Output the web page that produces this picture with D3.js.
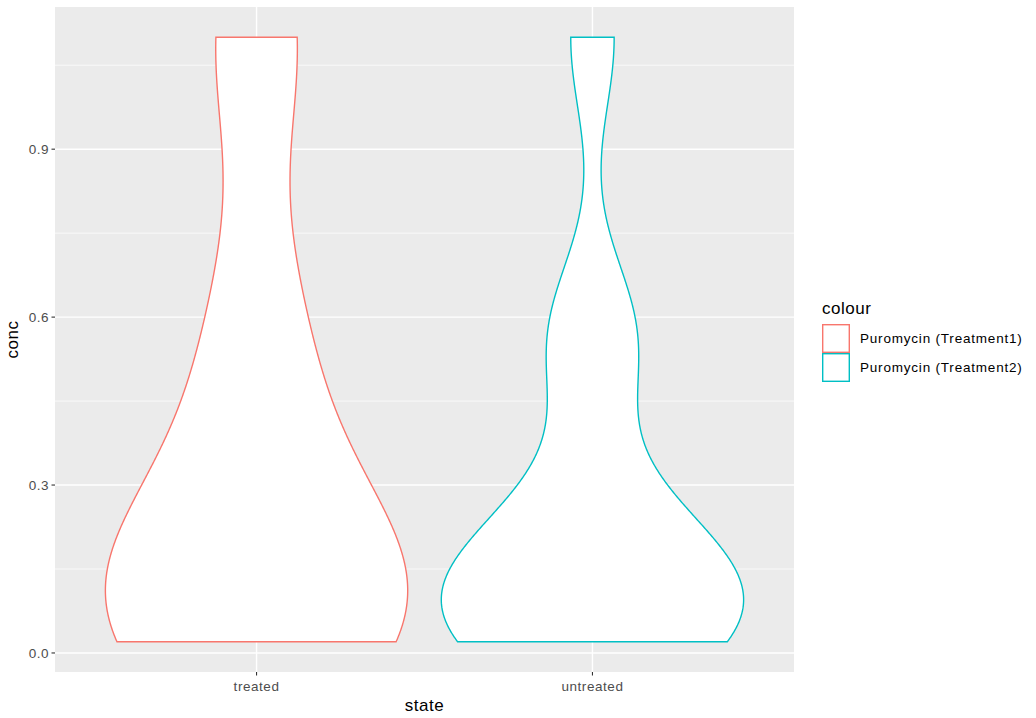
<!DOCTYPE html>
<html><head><meta charset="utf-8">
<script src="https://cdn.jsdelivr.net/npm/d3@7"></script>
<style>body{margin:0;background:#fff}svg{display:block}text{font-family:"Liberation Sans",Arial,sans-serif}</style>
</head><body>
<svg id="c" width="1036" height="718"></svg>
<script>
// Data: Puromycin concentrations (observations per state)
const categories = ["treated", "untreated"];
const treatedConc = [0.02,0.02,0.06,0.06,0.11,0.11,0.22,0.22,0.56,0.56,1.10,1.10];
const untreatedConc = [0.02,0.02,0.06,0.06,0.11,0.11,0.22,0.22,0.56,0.56,1.10];
const seriesNames = ["Puromycin (Treatment1)", "Puromycin (Treatment2)"];
const seriesColors = ["#F8766D", "#00BFC4"];
const yTicks = [0.0, 0.3, 0.6, 0.9];
const yMinor = [0.15, 0.45, 0.75, 1.05];

const svg = d3.select("#c");
const P = {l:55, r:794, t:7, b:672};

const x = d3.scaleLinear().domain([0.4, 2.6]).range([P.l, P.r]);
const y = d3.scaleLinear().domain([-0.034, 1.154]).range([P.b, P.t]);

svg.append("rect").attr("x",P.l).attr("y",P.t).attr("width",P.r-P.l).attr("height",P.b-P.t).attr("fill","#EBEBEB");
// minor grid
svg.selectAll(".ym").data(yMinor).enter().append("line")
  .attr("x1",P.l).attr("x2",P.r).attr("y1",d=>y(d)).attr("y2",d=>y(d))
  .attr("stroke","#fff").attr("stroke-width",0.7);
svg.selectAll(".yg").data(yTicks).enter().append("line")
  .attr("x1",P.l).attr("x2",P.r).attr("y1",d=>y(d)).attr("y2",d=>y(d))
  .attr("stroke","#fff").attr("stroke-width",1.4);
svg.selectAll(".xg").data(categories).enter().append("line")
  .attr("x1",(d,i)=>x(i+1)).attr("x2",(d,i)=>x(i+1)).attr("y1",P.t).attr("y2",P.b)
  .attr("stroke","#fff").attr("stroke-width",1.4);

// KDE (gaussian, bw.nrd0), trimmed to data range, as ggplot's stat_ydensity
function quantile7(s,p){const h=(s.length-1)*p;const lo=Math.floor(h);return s[lo]+(h-lo)*((s[lo+1]??s[lo])-s[lo]);}
function nrd0(v){const s=v.slice().sort((a,b)=>a-b);const sd=d3.deviation(v);const iqr=quantile7(s,0.75)-quantile7(s,0.25);const lo=Math.min(sd,iqr/1.34);return 0.9*lo*Math.pow(v.length,-0.2);}
function kde(v){
  const h=nrd0(v), n=512, mn=d3.min(v), mx=d3.max(v);
  const pts=d3.range(n).map(i=>mn+(mx-mn)*i/(n-1));
  return pts.map(t=>({y:t,d:d3.sum(v,o=>Math.exp(-0.5*((t-o)/h)**2))/(v.length*h*Math.sqrt(2*Math.PI))}));
}
const groups=[treatedConc, untreatedConc];
groups.forEach((v,i)=>{
  const dens=kde(v); const m=d3.max(dens,d=>d.d);
  const cx=i+1;
  const pts=dens.map(d=>[x(cx+0.45*d.d/m),y(d.y)]).concat(dens.slice().reverse().map(d=>[x(cx-0.45*d.d/m),y(d.y)]));
  svg.append("path").attr("d",d3.line()(pts)+"Z").attr("fill","#fff")
    .attr("stroke",seriesColors[i]).attr("stroke-width",1.4).attr("stroke-linejoin","miter");
});

// axes
const ax=svg.append("g");
yTicks.forEach(t=>{
  ax.append("line").attr("x1",P.l-3.5).attr("x2",P.l).attr("y1",y(t)).attr("y2",y(t)).attr("stroke","#333").attr("stroke-width",1.1);
  ax.append("text").attr("x",P.l-6).attr("y",y(t)).attr("dy","0.35em").attr("text-anchor","end")
    .attr("font-size",13.5).attr("letter-spacing",0.5).attr("fill","#4D4D4D").text(d3.format(".1f")(t));
});
categories.forEach((c,i)=>{
  ax.append("line").attr("x1",x(i+1)).attr("x2",x(i+1)).attr("y1",P.b).attr("y2",P.b+3.5).attr("stroke","#333").attr("stroke-width",1.1);
  ax.append("text").attr("x",x(i+1)).attr("y",691).attr("text-anchor","middle")
    .attr("font-size",13.5).attr("letter-spacing",0.55).attr("fill","#4D4D4D").text(c);
});
svg.append("text").attr("x",(P.l+P.r)/2).attr("y",711).attr("text-anchor","middle").attr("font-size",17).attr("letter-spacing",0.5).attr("fill","#000").text("state");
svg.append("text").attr("transform",`translate(18,${(P.t+P.b)/2}) rotate(-90)`).attr("text-anchor","middle").attr("font-size",17).attr("letter-spacing",0.5).attr("fill","#000").text("conc");

// legend
const lg=svg.append("g");
lg.append("text").attr("x",822).attr("y",314).attr("font-size",17).attr("letter-spacing",0.5).attr("fill","#000").text("colour");
seriesNames.forEach((s,i)=>{
  const ky=324+i*29;
  lg.append("rect").attr("x",822.7).attr("y",ky+0.7).attr("width",26.6).attr("height",27.6).attr("fill","#fff").attr("stroke",seriesColors[i]).attr("stroke-width",1.4);
  lg.append("text").attr("x",860).attr("y",ky+14.5).attr("dy","0.35em").attr("font-size",13.5).attr("letter-spacing",0.8).attr("fill","#000").text(s);
});
</script>
</body></html>
